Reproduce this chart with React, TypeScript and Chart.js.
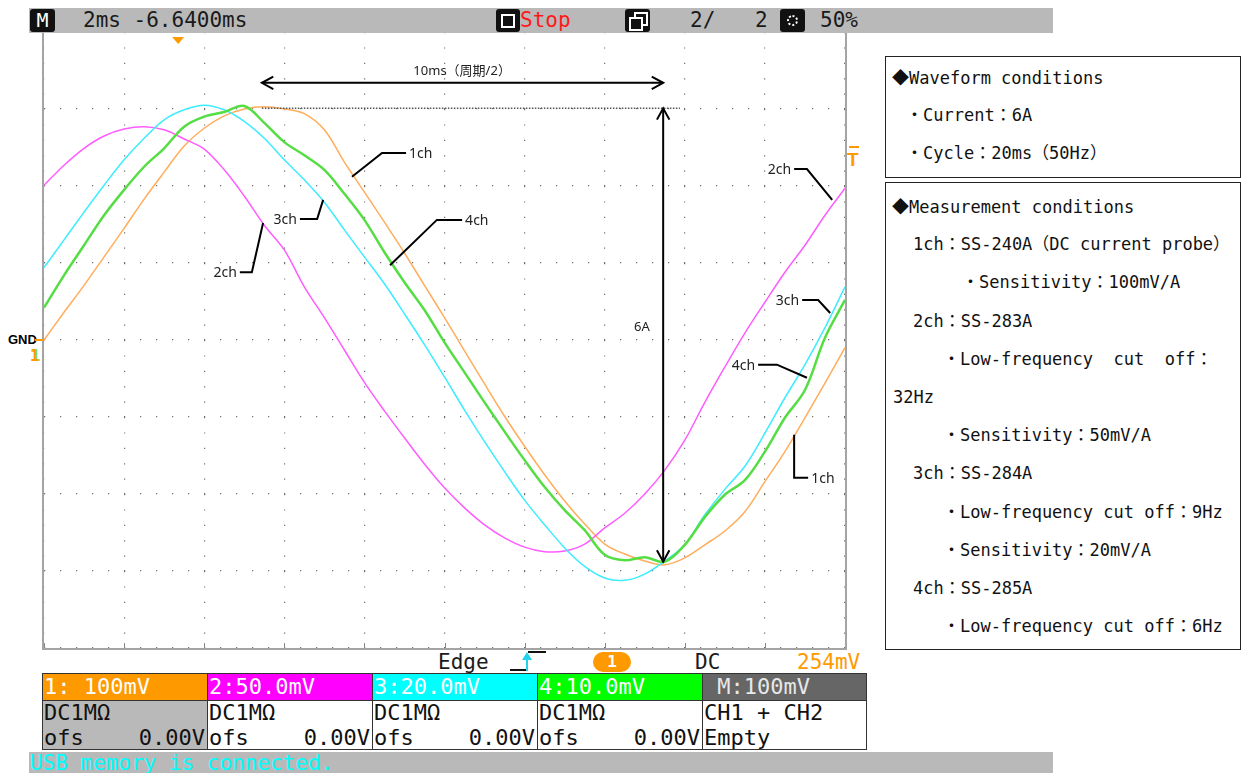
import React, { useEffect, useRef } from 'react';
import { Chart, registerables } from 'chart.js';

Chart.register(...registerables);

// ---- Data (time in ms, values in vertical divisions, GND = 0) ----
const TIME_MS = [
  0, 0.5, 1, 1.5, 2, 2.5, 3, 3.5, 4, 4.5, 5, 5.5, 6, 6.5, 7, 7.5, 8, 8.5, 9, 9.5, 10,
  10.5, 11, 11.5, 12, 12.5, 13, 13.5, 14, 14.5, 15, 15.5, 16, 16.5, 17, 17.5, 18, 18.5, 19, 19.5, 20,
];

const CH1_DIV = [
  0.0, 0.36, 0.71, 1.08, 1.45, 1.83, 2.18, 2.52, 2.75, 2.91, 3.0, 3.03, 3.0, 2.94, 2.73, 2.31, 1.92, 1.53, 1.13, 0.71, 0.29,
  -0.14, -0.57, -0.99, -1.38, -1.75, -2.09, -2.39, -2.65, -2.78, -2.87, -2.92, -2.83, -2.66, -2.48, -2.23, -1.84, -1.45, -1.01, -0.56, -0.1,
];

const CH2_DIV = [
  2.01, 2.27, 2.49, 2.65, 2.74, 2.77, 2.73, 2.61, 2.48, 2.21, 1.87, 1.49, 1.17, 0.69, 0.29, -0.13, -0.55, -0.92, -1.27, -1.61, -1.92,
  -2.18, -2.4, -2.57, -2.69, -2.75, -2.74, -2.65, -2.44, -2.25, -2.0, -1.69, -1.3, -0.81, -0.35, 0.09, 0.49, 0.88, 1.23, 1.62, 1.97,
];

const CH3_DIV = [
  0.94, 1.3, 1.66, 2.01, 2.34, 2.62, 2.86, 2.99, 3.05, 2.99, 2.84, 2.62, 2.34, 2.08, 1.79, 1.43, 1.08, 0.73, 0.34, -0.06, -0.48,
  -0.91, -1.32, -1.71, -2.08, -2.4, -2.7, -2.94, -3.09, -3.12, -3.04, -2.87, -2.66, -2.27, -1.94, -1.64, -1.21, -0.75, -0.32, 0.16, 0.69,
];

const CH4_DIV = [
  0.42, 0.84, 1.23, 1.62, 1.95, 2.25, 2.49, 2.77, 2.9, 2.96, 3.04, 2.82, 2.57, 2.4, 2.21, 1.9, 1.56, 1.14, 0.75, 0.39, -0.03,
  -0.42, -0.81, -1.19, -1.56, -1.91, -2.21, -2.47, -2.79, -2.86, -2.82, -2.88, -2.66, -2.3, -2.01, -1.82, -1.45, -1.01, -0.65, 0.03, 0.52,
];

const CHANNEL_NAMES = ['1ch', '2ch', '3ch', '4ch'];
const CHANNEL_COLORS = ['#ffad5c', '#ff5cff', '#3cecff', '#55dd44'];

// Annotations (data units: ms, divisions)
const PERIOD_ARROW = { t0: 5.44, t1: 15.46, v: 3.34, label: '10ms（周期/2）', labelT: 10.44, labelV: 3.49 };
const REF_LINE = { t0: 5.44, t1: 15.88, v: 3.01 };
const AMP_ARROW = { t: 15.46, v0: 3.01, v1: -2.88, label: '6A', labelT: 14.93, labelV: 0.17 };
const TRIGGER_POS_MS = 3.35;

type Leader = { name: string; pts: [number, number][]; align: 'left' | 'right' };
const LEADERS: Leader[] = [
  { name: '1ch', pts: [[7.69, 2.12], [8.44, 2.43], [9.04, 2.43]], align: 'left' },
  { name: '3ch', pts: [[6.97, 1.82], [6.82, 1.57], [6.39, 1.57]], align: 'right' },
  { name: '2ch', pts: [[5.47, 1.52], [5.19, 0.88], [4.89, 0.88]], align: 'right' },
  { name: '4ch', pts: [[8.64, 0.97], [9.81, 1.56], [10.44, 1.56]], align: 'left' },
  { name: '2ch', pts: [[19.68, 1.82], [19.05, 2.22], [18.73, 2.22]], align: 'right' },
  { name: '3ch', pts: [[19.63, 0.35], [19.33, 0.52], [18.93, 0.52]], align: 'right' },
  { name: '4ch', pts: [[19.05, -0.49], [18.3, -0.32], [17.83, -0.32]], align: 'right' },
  { name: '1ch', pts: [[18.73, -1.23], [18.73, -1.79], [19.08, -1.79]], align: 'left' },
];

const WAVE_LINES = ['◆Waveform conditions', '・Current：6A', '・Cycle：20ms（50Hz）'];
const MEAS_LINES = [
  '◆Measurement conditions',
  '1ch：SS-240A（DC current probe）',
  '・Sensitivity：100mV/A',
  '2ch：SS-283A',
  '・Low-frequency  cut  off：',
  '32Hz',
  '・Sensitivity：50mV/A',
  '3ch：SS-284A',
  '・Low-frequency cut off：9Hz',
  '・Sensitivity：20mV/A',
  '4ch：SS-285A',
  '・Low-frequency cut off：6Hz',
];
const MEAS_INDENT = [892, 913, 962, 913, 943, 893, 943, 913, 943, 943, 913, 943];
const WAVE_INDENT = [892, 906, 906];

const CH_HEAD = ['1: 100mV', '2:50.0mV', '3:20.0mV', '4:10.0mV', ' M:100mV'];
const CH_HEAD_BG = ['#ff9900', '#ff00ff', '#00ffff', '#00ff00', '#666666'];
const CH_ROW2 = ['DC1MΩ', 'DC1MΩ', 'DC1MΩ', 'DC1MΩ', 'CH1 + CH2'];
const CH_ROW3 = ['ofs', 'ofs', 'ofs', 'ofs', 'Empty'];
const CH_OFS = ['0.00V', '0.00V', '0.00V', '0.00V', ''];

const MONO = '"DejaVu Sans Mono", "Liberation Mono", "Noto Sans CJK JP", monospace';
const NOTE_FONT = '"Noto Sans", "Noto Sans CJK JP", sans-serif';

function arrowHead(ctx: CanvasRenderingContext2D, x: number, y: number, ang: number) {
  const len = 13;
  const spread = 0.5;
  ctx.beginPath();
  ctx.moveTo(x - len * Math.cos(ang - spread), y - len * Math.sin(ang - spread));
  ctx.lineTo(x, y);
  ctx.lineTo(x - len * Math.cos(ang + spread), y - len * Math.sin(ang + spread));
  ctx.stroke();
}

const notesPlugin = {
  id: 'scopeNotes',
  afterDatasetsDraw(chart: any) {
    const { ctx, scales, chartArea } = chart;
    const xs = scales.x;
    const ys = scales.y;
    const px = (t: number) => xs.getPixelForValue(t);
    const py = (v: number) => ys.getPixelForValue(v);
    ctx.save();

    // bottom division ticks
    ctx.strokeStyle = '#888';
    ctx.lineWidth = 1;
    xs.ticks.forEach((tk: any) => {
      const X = Math.round(px(tk.value)) + 0.5;
      ctx.beginPath();
      ctx.moveTo(X, chartArea.bottom);
      ctx.lineTo(X, chartArea.bottom - 5);
      ctx.stroke();
    });

    // trigger position marker
    ctx.fillStyle = '#ff9900';
    const tx = px(TRIGGER_POS_MS);
    ctx.beginPath();
    ctx.moveTo(tx - 6, chartArea.top + 5);
    ctx.lineTo(tx + 6, chartArea.top + 5);
    ctx.lineTo(tx, chartArea.top + 12);
    ctx.closePath();
    ctx.fill();

    // dotted reference line
    ctx.strokeStyle = '#555';
    ctx.lineWidth = 1.5;
    ctx.setLineDash([1.5, 1.5]);
    ctx.beginPath();
    ctx.moveTo(px(REF_LINE.t0), py(REF_LINE.v));
    ctx.lineTo(px(REF_LINE.t1), py(REF_LINE.v));
    ctx.stroke();
    ctx.setLineDash([]);

    // arrows
    ctx.strokeStyle = '#000';
    ctx.lineWidth = 2;
    const ay = py(PERIOD_ARROW.v);
    ctx.beginPath();
    ctx.moveTo(px(PERIOD_ARROW.t0), ay);
    ctx.lineTo(px(PERIOD_ARROW.t1), ay);
    ctx.stroke();
    arrowHead(ctx, px(PERIOD_ARROW.t1), ay, 0);
    arrowHead(ctx, px(PERIOD_ARROW.t0), ay, Math.PI);

    const ax = px(AMP_ARROW.t);
    ctx.beginPath();
    ctx.moveTo(ax, py(AMP_ARROW.v0));
    ctx.lineTo(ax, py(AMP_ARROW.v1));
    ctx.stroke();
    arrowHead(ctx, ax, py(AMP_ARROW.v0), -Math.PI / 2);
    arrowHead(ctx, ax, py(AMP_ARROW.v1), Math.PI / 2);

    ctx.fillStyle = '#222';
    ctx.textBaseline = 'middle';
    ctx.font = `13px ${NOTE_FONT}`;
    ctx.textAlign = 'center';
    ctx.fillText(PERIOD_ARROW.label, px(PERIOD_ARROW.labelT), py(PERIOD_ARROW.labelV));
    ctx.fillText(AMP_ARROW.label, px(AMP_ARROW.labelT), py(AMP_ARROW.labelV));

    // leaders
    ctx.lineWidth = 2;
    ctx.font = `14px ${NOTE_FONT}`;
    LEADERS.forEach((ld) => {
      ctx.beginPath();
      ld.pts.forEach(([t, v], i) => {
        if (i === 0) ctx.moveTo(px(t), py(v));
        else ctx.lineTo(px(t), py(v));
      });
      ctx.stroke();
      const [lt, lv] = ld.pts[ld.pts.length - 1];
      ctx.textAlign = ld.align;
      const off = ld.align === 'left' ? 3 : -3;
      ctx.fillText(ld.name, px(lt) + off, py(lv) + 1);
    });
    ctx.restore();
  },
};

const abs = (left: number, top: number, extra: React.CSSProperties = {}): React.CSSProperties => ({
  position: 'absolute',
  left,
  top,
  whiteSpace: 'pre',
  ...extra,
});

function NoteLine({ text, style }: { text: string; style: React.CSSProperties }) {
  if (text.startsWith('◆')) {
    return (
      <div style={style}>
        <span style={{ fontFamily: '"Noto Sans CJK JP", sans-serif', fontSize: 17 }}>◆</span>
        {text.slice(1)}
      </div>
    );
  }
  return <div style={style}>{text}</div>;
}

export default function App() {
  const canvasRef = useRef<HTMLCanvasElement>(null);

  useEffect(() => {
    if (!canvasRef.current) return;
    const drawOrder = [3, 2, 1, 0];
    const series = [CH1_DIV, CH2_DIV, CH3_DIV, CH4_DIV];
    const chart = new Chart(canvasRef.current, {
      type: 'line',
      data: {
        datasets: drawOrder.map((i) => ({
          label: CHANNEL_NAMES[i],
          data: TIME_MS.map((t, k) => ({ x: t, y: series[i][k] })),
          borderColor: CHANNEL_COLORS[i],
          borderWidth: i === 3 ? 2.5 : 1.5,
          pointRadius: 0,
          tension: 0.35,
          fill: false,
        })),
      },
      options: {
        animation: false,
        responsive: false,
        maintainAspectRatio: false,
        layout: { padding: 0 },
        plugins: { legend: { display: false }, tooltip: { enabled: false } },
        scales: {
          x: {
            type: 'linear',
            min: 0,
            max: 20,
            ticks: { display: false, stepSize: 2 },
            grid: { color: '#707070', lineWidth: 1.2, drawTicks: false },
            border: { display: false, dash: [1.2, 14.2] },
          },
          y: {
            type: 'linear',
            min: -4,
            max: 4,
            ticks: { display: false, stepSize: 1 },
            grid: { color: '#707070', lineWidth: 1.2, drawTicks: false },
            border: { display: false, dash: [1.2, 14.8] },
          },
        },
      },
      plugins: [notesPlugin],
    } as any);
    return () => chart.destroy();
  }, []);

  const headText: React.CSSProperties = { fontFamily: MONO, fontSize: 21, lineHeight: '25px', color: '#1a1a1a' };
  const boxText: React.CSSProperties = { fontFamily: MONO, fontSize: 17, lineHeight: '20px', color: '#111' };
  const tblText: React.CSSProperties = { fontFamily: MONO, fontSize: 22, lineHeight: '25px', color: '#111' };

  return (
    <div style={{ position: 'absolute', left: 0, top: 0, width: 1243, height: 773, background: '#fff', overflow: 'hidden' }}>
      {/* plot frame */}
      <div style={abs(42, 30, { width: 805, height: 620, boxSizing: 'border-box', border: '2px solid #a4a4a4' })} />
      <canvas ref={canvasRef} width={801} height={616} style={abs(44, 32, { display: 'block', width: 801, height: 616 })} />

      {/* header bar */}
      <div style={abs(29, 8, { width: 1024, height: 25, background: '#b9b9b9' })} />
      <div style={abs(30, 9, { width: 25, height: 23, background: '#111', borderRadius: 3, color: '#fff', fontFamily: MONO, fontSize: 20, lineHeight: '23px', textAlign: 'center' })}>M</div>
      <div style={abs(83, 8, headText)}>2ms -6.6400ms</div>
      <div style={abs(496, 9, { width: 24, height: 23, background: '#111', borderRadius: 3 })}>
        <div style={abs(5, 5, { width: 10, height: 10, border: '2px solid #fff' })} />
      </div>
      <div style={abs(520, 8, { ...headText, color: '#ff1a1a' })}>Stop</div>
      <div style={abs(625, 9, { width: 25, height: 23, background: '#111', borderRadius: 3 })}>
        <div style={abs(9, 3, { width: 10, height: 10, border: '2px solid #fff' })} />
        <div style={abs(4, 8, { width: 10, height: 10, border: '2px solid #fff', background: '#111' })} />
      </div>
      <div style={abs(690, 8, headText)}>2/</div>
      <div style={abs(755, 8, headText)}>2</div>
      <div style={abs(780, 9, { width: 25, height: 23, background: '#111', borderRadius: 3 })}>
        <div style={abs(7, 6, { width: 11, height: 11, borderRadius: 6, border: '2px dotted #fff', boxSizing: 'border-box' })} />
      </div>
      <div style={abs(820, 8, headText)}>50%</div>

      {/* left GND marker */}
      <div style={abs(8, 331, { fontFamily: '"Liberation Sans", sans-serif', fontWeight: 'bold', fontSize: 13, lineHeight: '18px', color: '#000' })}>GND</div>
      <div style={abs(35, 339, { width: 9, height: 2, background: '#ff9900' })} />
      <div style={abs(31, 347, { fontFamily: MONO, fontWeight: 'bold', fontSize: 15, lineHeight: '18px', color: '#33dd33' })}>1</div>
      <div style={abs(30, 347, { fontFamily: MONO, fontWeight: 'bold', fontSize: 15, lineHeight: '18px', color: '#ff9900' })}>1</div>

      {/* right trigger level marker */}
      <div style={abs(849, 146, { width: 10, height: 2, background: '#ff9900' })} />
      <div style={abs(847, 150, { fontFamily: '"Liberation Sans", sans-serif', fontWeight: 'bold', fontSize: 19, lineHeight: '20px', color: '#ff9900' })}>T</div>

      {/* trigger status line */}
      <div style={abs(438, 650, { ...headText, fontSize: 21 })}>Edge</div>
      <svg style={abs(508, 648, {})} width={40} height={26}>
        <polyline points="2,22 18,22" stroke="#111" strokeWidth={2} fill="none" />
        <polyline points="20,4 38,4" stroke="#111" strokeWidth={2} fill="none" />
        <line x1={19} y1={23} x2={19} y2={9} stroke="#22d3ee" strokeWidth={2} />
        <polygon points="19,4 14,12 24,12" fill="#22d3ee" />
      </svg>
      <div style={abs(593, 652, { width: 38, height: 20, background: '#ff9900', borderRadius: 10, color: '#fff', fontFamily: MONO, fontSize: 16, lineHeight: '20px', textAlign: 'center', fontWeight: 'bold' })}>1</div>
      <div style={abs(695, 650, headText)}>DC</div>
      <div style={abs(797, 650, { ...headText, color: '#ff9900' })}>254mV</div>

      {/* channel table */}
      {CH_HEAD.map((h, i) => {
        const left = 42 + i * 165;
        return (
          <React.Fragment key={i}>
            <div style={abs(left, 673, { width: 165, height: 27, background: CH_HEAD_BG[i], boxSizing: 'border-box', borderLeft: '1px solid #333', borderRight: i === 4 ? '1px solid #333' : 'none', borderTop: '1px solid #333' })} />
            <div style={abs(left, 700, { width: 165, height: 50, background: i === 0 ? '#b9b9b9' : '#fff', boxSizing: 'border-box', border: '1px solid #333', borderRight: i === 4 ? '1px solid #333' : 'none' })} />
            <div style={abs(left + 2, 674, { ...tblText, color: i === 4 ? '#e8e8e8' : '#fff' })}>{h}</div>
            <div style={abs(left + 2, 700, tblText)}>{CH_ROW2[i]}</div>
            <div style={abs(left + 2, 725, tblText)}>{CH_ROW3[i]}</div>
            <div style={abs(left, 725, { ...tblText, width: 163, textAlign: 'right' })}>{CH_OFS[i]}</div>
          </React.Fragment>
        );
      })}

      {/* bottom status bar */}
      <div style={abs(29, 752, { width: 1024, height: 21, background: '#b9b9b9' })} />
      <div style={abs(30, 751, { ...tblText, fontSize: 21, color: '#00ffff' })}>USB memory is connected.</div>

      {/* right-hand notes */}
      <div style={abs(885, 56, { width: 356, height: 122, boxSizing: 'border-box', border: '1px solid #222' })} />
      {WAVE_LINES.map((s, i) => (
        <NoteLine key={'w' + i} text={s} style={abs(WAVE_INDENT[i], 67 + i * 38, boxText)} />
      ))}
      <div style={abs(885, 182, { width: 356, height: 468, boxSizing: 'border-box', border: '1px solid #222' })} />
      {MEAS_LINES.map((s, i) => (
        <NoteLine key={'m' + i} text={s} style={abs(MEAS_INDENT[i], 196 + i * 38.2, boxText)} />
      ))}
    </div>
  );
}
